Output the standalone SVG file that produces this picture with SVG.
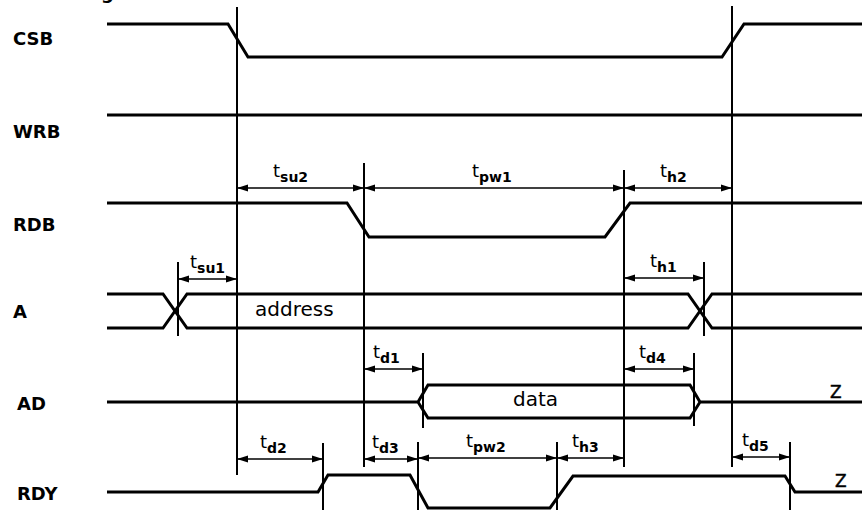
<svg xmlns="http://www.w3.org/2000/svg" width="862" height="510" viewBox="0 0 862 510">
<defs>
<marker id="ah" markerWidth="11" markerHeight="8" refX="11" refY="4" orient="auto-start-reverse" markerUnits="userSpaceOnUse">
<path d="M0,0.5 L11,4 L0,7.5 Z" fill="#000"/>
</marker>
<style>
.sig{fill:none;stroke:#000;stroke-width:3;stroke-linejoin:miter}
.vl{stroke:#000;stroke-width:2}
.dim{stroke:#000;stroke-width:1.6;marker-start:url(#ah);marker-end:url(#ah)}
.lbl{font-family:"DejaVu Sans",sans-serif;font-weight:bold;font-size:18px;fill:#000}
.t{font-family:"DejaVu Sans",sans-serif;font-size:18px;fill:#000}
.s{font-weight:bold;font-size:14px}
.txt{font-family:"DejaVu Sans",sans-serif;font-size:20px;fill:#000}
.z{font-family:"DejaVu Sans",sans-serif;font-size:17px;fill:#000;stroke:#000;stroke-width:0.4}
</style>
</defs>
<rect width="862" height="510" fill="#fff"/>
<text class="lbl" x="101" y="-1">g</text>
<g id="signals">
<g id="csb"><text class="lbl" x="13" y="45">CSB</text><polyline class="sig" points="107,24 228,24 248,57 722,57 744,24 862,24"/></g>
<g id="wrb"><text class="lbl" x="13" y="138">WRB</text><polyline class="sig" points="107,115 862,115"/></g>
<g id="rdb"><text class="lbl" x="13" y="231">RDB</text><polyline class="sig" points="107,203 347,203 369,237 605,237 630,203 862,203"/></g>
<g id="a"><text class="lbl" x="13" y="318">A</text>
<polyline class="sig" points="107,294 163,294 187,328 688,328 712,294 862,294"/>
<polyline class="sig" points="107,328 163,328 187,294 688,294 712,328 862,328"/>
<text class="txt" x="255" y="316">address</text></g>
<g id="ad"><text class="lbl" x="17" y="410">AD</text>
<path class="sig" d="M107,402 H418 L428,385 H690 L700,402 H862 M418,402 L428,418 H690 L700,402"/>
<text class="txt" x="513" y="406">data</text>
<text class="z" x="830" y="398">Z</text></g>
<g id="rdy"><text class="lbl" x="17" y="500">RDY</text>
<polyline class="sig" points="107,492 318,492 328,475 410,475 428,508 550,508 573,476 785,476 795,492 862,492"/>
<text class="z" x="835" y="487">Z</text></g>
</g>
<g id="connectors">
<line class="vl" x1="237" y1="7" x2="237" y2="475"/>
<line class="vl" x1="732" y1="6" x2="732" y2="467"/>
<line class="vl" x1="364" y1="163" x2="364" y2="467"/>
<line class="vl" x1="624" y1="170" x2="624" y2="467"/>
<line class="vl" x1="178" y1="262" x2="178" y2="336"/>
<line class="vl" x1="704" y1="262" x2="704" y2="336"/>
<line class="vl" x1="423" y1="353" x2="423" y2="428"/>
<line class="vl" x1="694" y1="353" x2="694" y2="426"/>
<line class="vl" x1="323" y1="443" x2="323" y2="510"/>
<line class="vl" x1="418" y1="442" x2="418" y2="510"/>
<line class="vl" x1="557" y1="442" x2="557" y2="510"/>
<line class="vl" x1="790" y1="442" x2="790" y2="510"/>
<line class="dim" x1="237" y1="188" x2="364" y2="188"/>
<line class="dim" x1="364" y1="188" x2="624" y2="188"/>
<line class="dim" x1="624" y1="188" x2="732" y2="188"/>
<line class="dim" x1="178" y1="279" x2="237" y2="279"/>
<line class="dim" x1="624" y1="278" x2="704" y2="278"/>
<line class="dim" x1="364" y1="369" x2="423" y2="369"/>
<line class="dim" x1="624" y1="369" x2="694" y2="369"/>
<line class="dim" x1="237" y1="459" x2="323" y2="459"/>
<line class="dim" x1="364" y1="459" x2="418" y2="459"/>
<line class="dim" x1="418" y1="458" x2="557" y2="458"/>
<line class="dim" x1="557" y1="458" x2="624" y2="458"/>
<line class="dim" x1="732" y1="457" x2="790" y2="457"/>
</g>
<g id="labels">
<text class="t" x="273" y="177">t<tspan class="s" dy="5">su2</tspan></text>
<text class="t" x="472" y="177">t<tspan class="s" dy="5">pw1</tspan></text>
<text class="t" x="660" y="177">t<tspan class="s" dy="5">h2</tspan></text>
<text class="t" x="190" y="268">t<tspan class="s" dy="5">su1</tspan></text>
<text class="t" x="650" y="267">t<tspan class="s" dy="5">h1</tspan></text>
<text class="t" x="373" y="358">t<tspan class="s" dy="5">d1</tspan></text>
<text class="t" x="639" y="358">t<tspan class="s" dy="5">d4</tspan></text>
<text class="t" x="260" y="448">t<tspan class="s" dy="5">d2</tspan></text>
<text class="t" x="372" y="448">t<tspan class="s" dy="5">d3</tspan></text>
<text class="t" x="466" y="447">t<tspan class="s" dy="5">pw2</tspan></text>
<text class="t" x="572" y="447">t<tspan class="s" dy="5">h3</tspan></text>
<text class="t" x="742" y="446">t<tspan class="s" dy="5">d5</tspan></text>
</g>
</svg>
